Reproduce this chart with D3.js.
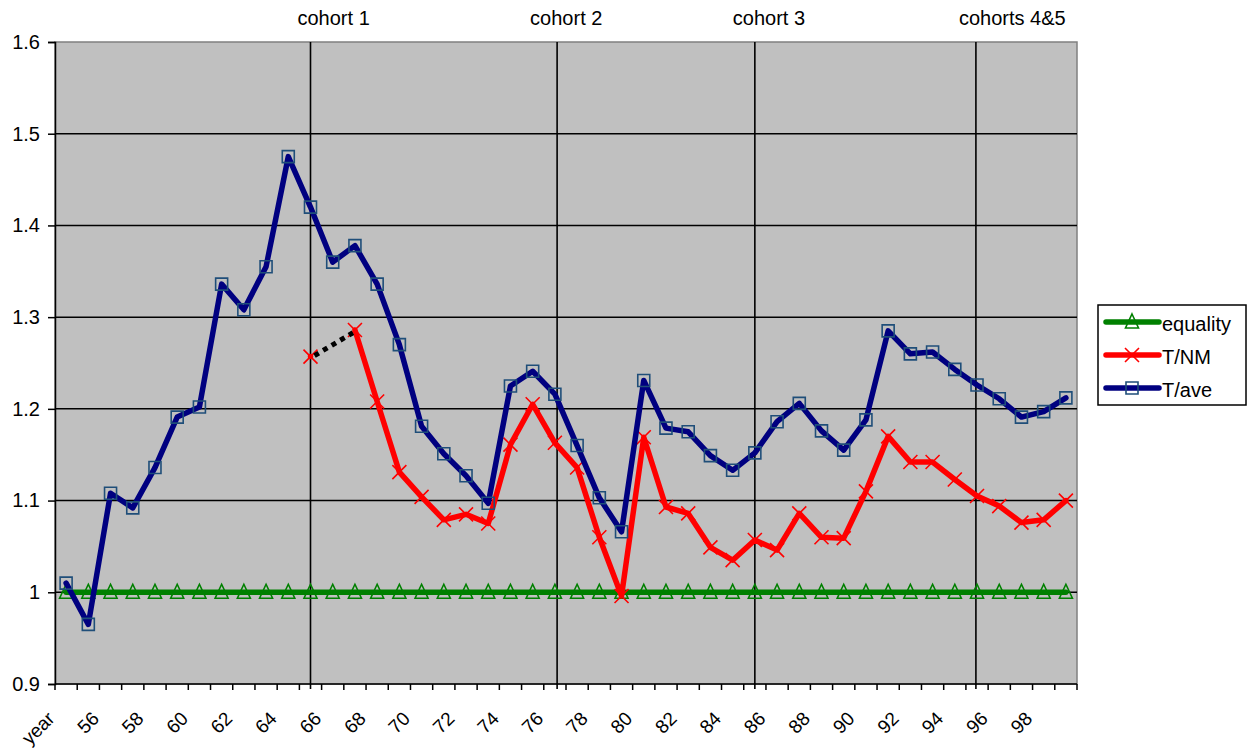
<!DOCTYPE html>
<html>
<head>
<meta charset="utf-8">
<script src="https://cdn.jsdelivr.net/npm/d3@7"></script>
<style>
  body { margin: 0; background: #fff; }
  svg { font-family: "Liberation Sans", Arial, sans-serif; }
</style>
</head>
<body>
<svg id="chart" width="1252" height="751"></svg>
<script>
(function (d3) {
    'use strict';

    // categories: first slot is labelled "year", then 55..99
    var years = ['year', '55', '56', '57', '58', '59', '60', '61', '62', '63', '64',
        '65', '66', '67', '68', '69', '70', '71', '72', '73', '74',
        '75', '76', '77', '78', '79', '80', '81', '82', '83', '84',
        '85', '86', '87', '88', '89', '90', '91', '92', '93', '94',
        '95', '96', '97', '98', '99'];

    var equality = years.map(function () { return 1; });

    var tNM = [null, null, null, null, null, null, null, null, null, null, null,
        1.257, null, 1.286, 1.208, 1.131, 1.104, 1.079, 1.085, 1.075, 1.161,
        1.205, 1.163, 1.136, 1.060, 0.996, 1.169, 1.093, 1.086, 1.049, 1.035,
        1.057, 1.046, 1.086, 1.060, 1.059, 1.110, 1.170, 1.142, 1.142, 1.123,
        1.105, 1.094, 1.076, 1.079, 1.100];

    var tAve = [1.010, 0.965, 1.108, 1.092, 1.136, 1.191, 1.202, 1.336, 1.308, 1.355, 1.475,
        1.420, 1.360, 1.378, 1.336, 1.270, 1.181, 1.151, 1.127, 1.097, 1.225,
        1.241, 1.216, 1.160, 1.103, 1.066, 1.231, 1.179, 1.175, 1.149, 1.133,
        1.152, 1.186, 1.206, 1.176, 1.155, 1.188, 1.285, 1.260, 1.262, 1.243,
        1.226, 1.211, 1.191, 1.197, 1.212];

    // hand-drawn dotted link across the gap in T/NM (index, value)
    var gapLink = [[11, 1.257], [13, 1.283]];

    var yTicks = [0.9, 1.0, 1.1, 1.2, 1.3, 1.4, 1.5, 1.6];

    var cohortLabels = ['cohort 1', 'cohort 2', 'cohort 3', 'cohorts 4&5'];
    var cohortAt = [11, 22.1, 31, 40.95];
    var cohortLabelShift = [-13, -27, -22, -17];

    var series = [
        { name: 'equality', values: equality, color: '#008000', marker: 'triangle', markColor: '#008000' },
        { name: 'T/NM', values: tNM, color: '#ff0000', marker: 'cross', markColor: '#ff0000' },
        { name: 'T/ave', values: tAve, color: '#000080', marker: 'square', markColor: '#1f4e79' }
    ];

    var svg = d3.select('#chart'),
        left = 55, top = 42, width = 1022, height = 642,
        plot = svg.append('g').attr('transform', 'translate(' + left + ',' + top + ')');

    var x = d3.scaleBand().domain(d3.range(years.length)).range([0, width]).padding(0),
        bw = x.bandwidth(),
        y = d3.scaleLinear().domain([0.9, 1.6]).range([height, 0]);

    function cx(i) { return x(i) + bw / 2; }
    function fx(pos) { return x(0) + (pos + 0.5) * bw; }

    plot.append('rect')
        .attr('width', width).attr('height', height)
        .attr('fill', '#c0c0c0').attr('stroke', '#808080').attr('stroke-width', 1.5);

    // horizontal gridlines
    plot.selectAll('.grid').data(yTicks.slice(1, -1)).enter().append('line')
        .attr('x1', 0).attr('x2', width)
        .attr('y1', y).attr('y2', y)
        .attr('stroke', '#000').attr('stroke-width', 1.5);

    // cohort lines
    plot.selectAll('.cohort').data(cohortAt).enter().append('line')
        .attr('x1', fx).attr('x2', fx)
        .attr('y1', 0).attr('y2', height + 5)
        .attr('stroke', '#000').attr('stroke-width', 1.6);

    svg.selectAll('.cohortLabel').data(cohortLabels).enter().append('text')
        .attr('x', function (d, i) { return left + fx(cohortAt[i]) + cohortLabelShift[i]; })
        .attr('y', 25)
        .attr('font-size', 20)
        .attr('fill', '#000')
        .text(function (d) { return d; });

    // y axis
    var yAxis = plot.append('g')
        .call(d3.axisLeft(y).tickValues(yTicks).tickSize(7).tickPadding(8)
            .tickFormat(function (d) { return d3.format('')(+d.toFixed(1)); }));
    yAxis.select('.domain').attr('stroke', '#000').attr('stroke-width', 1.5);
    yAxis.selectAll('.tick line').attr('stroke', '#000').attr('stroke-width', 1.5);
    yAxis.selectAll('.tick text').attr('font-size', 20).attr('fill', '#000')
        .attr('font-family', '"Liberation Sans", Arial, sans-serif');

    // x axis: ticks at category boundaries
    var xAxis = plot.append('g').attr('transform', 'translate(0,' + height + ')');
    xAxis.append('line').attr('x1', 0).attr('x2', width)
        .attr('stroke', '#000').attr('stroke-width', 1.5);
    xAxis.selectAll('.xt').data(d3.range(years.length + 1)).enter().append('line')
        .attr('x1', function (i) { return i * bw; })
        .attr('x2', function (i) { return i * bw; })
        .attr('y1', 0).attr('y2', 6)
        .attr('stroke', '#000').attr('stroke-width', 1.5);
    xAxis.selectAll('.xl').data(d3.range(0, years.length, 2)).enter().append('text')
        .attr('transform', function (i) {
            return 'translate(' + (cx(i) - 15) + ',31) rotate(-45)';
        })
        .attr('text-anchor', 'end')
        .attr('dy', '0.35em')
        .attr('font-size', 19)
        .attr('fill', '#000')
        .text(function (i) { return years[i]; });

    // series lines and markers
    function markerPath(type) {
        if (type === 'triangle') { return 'M0,-8L6.5,6L-6.5,6Z'; }
        if (type === 'cross') { return 'M-7,-7L7,7M-7,7L7,-7'; }
        return 'M-6,-6H6V6H-6Z';
    }

    var line = d3.line()
        .defined(function (d) { return d !== null; })
        .x(function (d, i) { return cx(i); })
        .y(function (d) { return y(d); });

    series.forEach(function (s) {
        var g = plot.append('g');
        g.append('path')
            .attr('d', line(s.values))
            .attr('fill', 'none')
            .attr('stroke', s.color)
            .attr('stroke-width', 5.5)
            .attr('stroke-linejoin', 'round')
            .attr('stroke-linecap', 'round');
        g.selectAll('.m').data(s.values.map(function (v, i) { return [i, v]; })
            .filter(function (d) { return d[1] !== null; }))
            .enter().append('path')
            .attr('transform', function (d) { return 'translate(' + cx(d[0]) + ',' + y(d[1]) + ')'; })
            .attr('d', markerPath(s.marker))
            .attr('fill', 'none')
            .attr('stroke', s.markColor)
            .attr('stroke-width', 1.6);
    });

    // dotted link
    plot.append('line')
        .attr('x1', cx(gapLink[0][0]) + 4).attr('y1', y(gapLink[0][1]) - 1)
        .attr('x2', cx(gapLink[1][0]) - 2).attr('y2', y(gapLink[1][1]))
        .attr('stroke', '#000').attr('stroke-width', 5)
        .attr('stroke-dasharray', '5,5');

    // legend
    var legend = svg.append('g').attr('transform', 'translate(1098,305)');
    legend.append('rect')
        .attr('width', 148).attr('height', 100)
        .attr('fill', '#fff').attr('stroke', '#000').attr('stroke-width', 1.5);
    series.forEach(function (s, i) {
        var row = legend.append('g').attr('transform', 'translate(0,' + (17 + i * 33) + ')');
        row.append('line').attr('x1', 8).attr('x2', 61)
            .attr('stroke', s.color).attr('stroke-width', 5.5).attr('stroke-linecap', 'round');
        row.append('path').attr('transform', 'translate(34,0)')
            .attr('d', markerPath(s.marker))
            .attr('fill', 'none').attr('stroke', s.markColor).attr('stroke-width', 1.6);
        row.append('text').attr('x', 64).attr('y', 9)
            .attr('font-size', 20).attr('fill', '#000')
            .text(s.name);
    });
}(window.d3));
</script>
</body>
</html>
